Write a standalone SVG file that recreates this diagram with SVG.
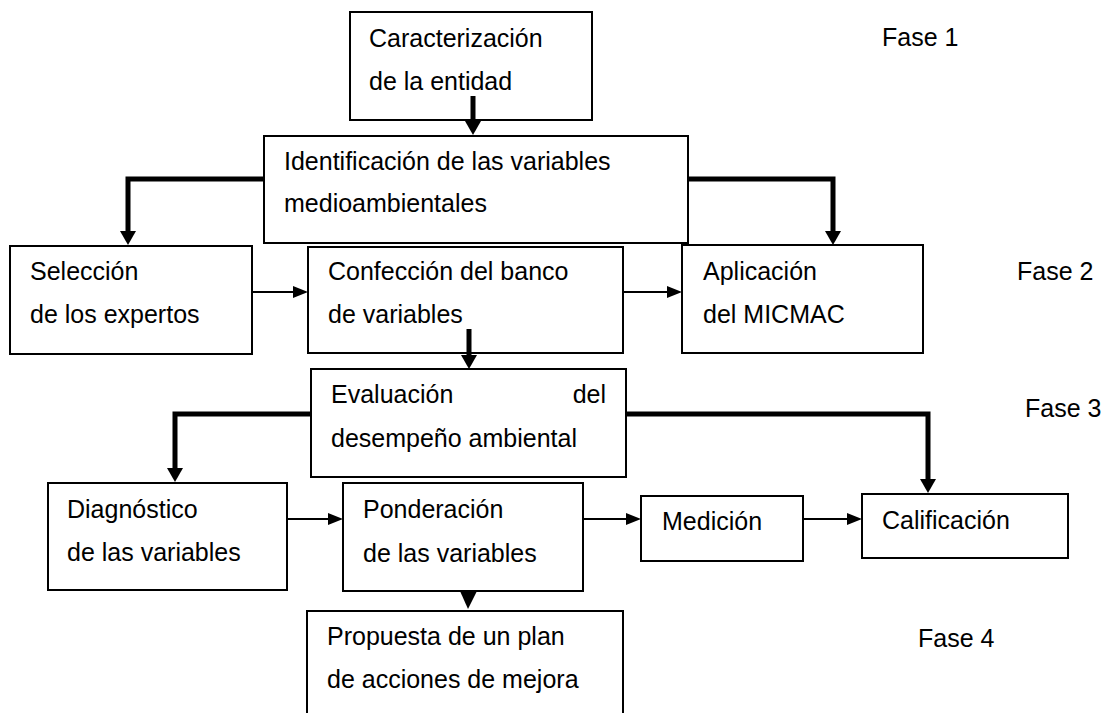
<svg xmlns="http://www.w3.org/2000/svg" width="1102" height="713" viewBox="0 0 1102 713">
<style>
.box{fill:#fff;stroke:#000;stroke-width:2}
.t{font-family:"Liberation Sans",Arial,sans-serif;font-size:25px;fill:#000}
.thick{fill:none;stroke:#000;stroke-width:5;stroke-linejoin:miter}
.thin{fill:none;stroke:#000;stroke-width:2}
</style>
<defs>
<marker id="hThick" viewBox="0 0 14 16" refX="0" refY="8" markerWidth="14" markerHeight="16" markerUnits="userSpaceOnUse" orient="auto">
<path d="M0,0 L14,8 L0,16 z" fill="#000"/>
</marker>
<marker id="hThin" viewBox="0 0 15 12" refX="0" refY="6" markerWidth="15" markerHeight="12" markerUnits="userSpaceOnUse" orient="auto">
<path d="M0,0 L15,6 L0,12 z" fill="#000"/>
</marker>
</defs>
<rect width="1102" height="713" fill="#fff"/>

<g id="n-caracterizacion">
<rect class="box" x="350" y="12" width="242" height="108"/>
<text class="t" x="369" y="47">Caracterización</text>
<text class="t" x="369" y="90">de la entidad</text>
</g>

<g id="n-identificacion">
<rect class="box" x="264" y="136" width="424" height="107"/>
<text class="t" x="284" y="170">Identificación de las variables</text>
<text class="t" x="284" y="212">medioambientales</text>
</g>

<g id="n-seleccion">
<rect class="box" x="10" y="246" width="242" height="108"/>
<text class="t" x="30" y="280">Selección</text>
<text class="t" x="30" y="323">de los expertos</text>
</g>

<g id="n-confeccion">
<rect class="box" x="308" y="247" width="315" height="106"/>
<text class="t" x="328" y="280">Confección del banco</text>
<text class="t" x="328" y="323">de variables</text>
</g>

<g id="n-aplicacion">
<rect class="box" x="682" y="245" width="241" height="108"/>
<text class="t" x="703" y="280">Aplicación</text>
<text class="t" x="703" y="323">del MICMAC</text>
</g>

<g id="n-evaluacion">
<rect class="box" x="311" y="369" width="315" height="108"/>
<text class="t" x="331" y="403">Evaluación</text>
<text class="t" x="606" y="403" text-anchor="end">del</text>
<text class="t" x="331" y="447">desempeño ambiental</text>
</g>

<g id="n-diagnostico">
<rect class="box" x="48" y="483" width="239" height="107"/>
<text class="t" x="67" y="518">Diagnóstico</text>
<text class="t" x="67" y="561">de las variables</text>
</g>

<g id="n-ponderacion">
<rect class="box" x="343" y="483" width="240" height="108"/>
<text class="t" x="363" y="518">Ponderación</text>
<text class="t" x="363" y="562">de las variables</text>
</g>

<g id="n-medicion">
<rect class="box" x="641" y="496" width="162" height="65"/>
<text class="t" x="662" y="530">Medición</text>
</g>

<g id="n-calificacion">
<rect class="box" x="862" y="494" width="206" height="64"/>
<text class="t" x="882" y="529">Calificación</text>
</g>

<g id="n-propuesta">
<rect class="box" x="307" y="611" width="316" height="120"/>
<text class="t" x="327" y="645">Propuesta de un plan</text>
<text class="t" x="327" y="688">de acciones de mejora</text>
</g>

<g id="fases">
<text class="t" x="882" y="46">Fase 1</text>
<text class="t" x="1017" y="280">Fase 2</text>
<text class="t" x="1025" y="417">Fase 3</text>
<text class="t" x="918" y="647">Fase 4</text>
</g>

<g id="connectors">
<path class="thick" d="M473,96 V121" marker-end="url(#hThick)"/>
<path class="thick" d="M264,179 H128 V231" marker-end="url(#hThick)"/>
<path class="thick" d="M688,179 H833 V231" marker-end="url(#hThick)"/>
<path class="thick" d="M469,329 V355" marker-end="url(#hThick)"/>
<path class="thick" d="M311,414 H175 V468" marker-end="url(#hThick)"/>
<path class="thick" d="M626,414 H928 V479" marker-end="url(#hThick)"/>
<polygon points="460,591 477,591 468,609" fill="#000"/>
<path class="thin" d="M252,292 H293" marker-end="url(#hThin)"/>
<path class="thin" d="M623,292 H667" marker-end="url(#hThin)"/>
<path class="thin" d="M287,519 H328" marker-end="url(#hThin)"/>
<path class="thin" d="M583,519 H626" marker-end="url(#hThin)"/>
<path class="thin" d="M803,519 H847" marker-end="url(#hThin)"/>
</g>
</svg>
